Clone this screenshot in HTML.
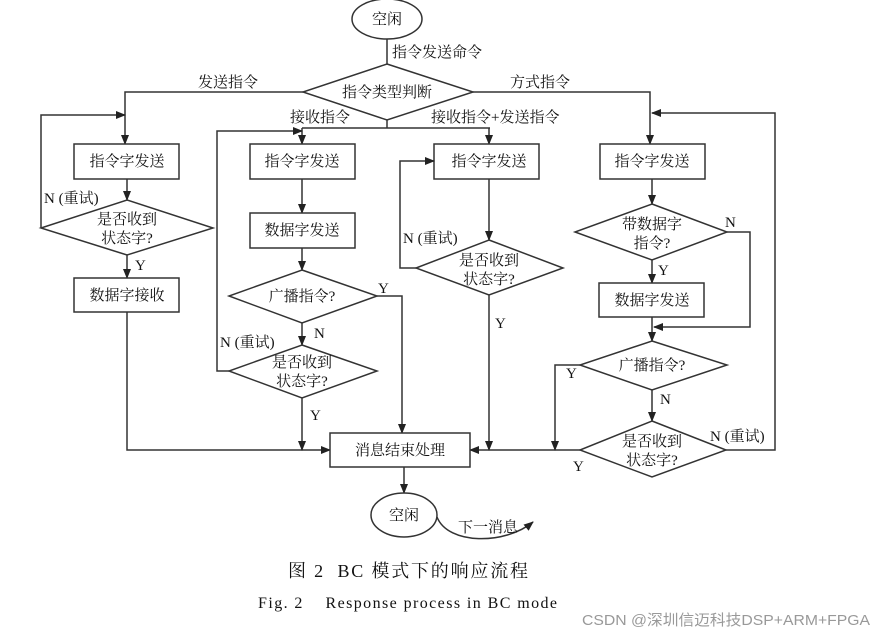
<!DOCTYPE html>
<html><head><meta charset="utf-8"><style>
html,body{margin:0;padding:0;background:#fff;}
svg{display:block;}
text{font-family:"Liberation Serif","Noto Serif CJK SC",serif;font-size:15px;fill:#111;white-space:pre;}
</style></head><body>
<svg width="887" height="637" viewBox="0 0 887 637" xmlns="http://www.w3.org/2000/svg">
<defs><marker id="a" markerWidth="10" markerHeight="8" refX="9" refY="4" orient="auto" markerUnits="userSpaceOnUse"><path d="M0,0 L10,4 L0,8 z" fill="#222"/></marker></defs>
<g stroke="#333" stroke-width="1.5" fill="none">
<ellipse cx="387" cy="19" rx="35" ry="20" fill="#fff"/>
<line x1="387" y1="39" x2="387" y2="64"/>
<polygon points="387,64 473,92 387,120 303,92" fill="#fff"/>
<polyline points="303,92 125,92 125,144" marker-end="url(#a)"/>
<polyline points="473,92 650,92 650,144" marker-end="url(#a)"/>
<line x1="387" y1="120" x2="387" y2="128"/>
<line x1="302" y1="128" x2="490" y2="128"/>
<line x1="302" y1="128" x2="302" y2="144" marker-end="url(#a)"/>
<line x1="489" y1="128" x2="489" y2="144" marker-end="url(#a)"/>
<rect x="74" y="144" width="105" height="35" fill="#fff"/>
<line x1="127" y1="179" x2="127" y2="200" marker-end="url(#a)"/>
<polygon points="127,200 213,228 127,255 41,228" fill="#fff"/>
<polyline points="41,228 41,115 125,115" marker-end="url(#a)"/>
<line x1="127" y1="255" x2="127" y2="278" marker-end="url(#a)"/>
<rect x="74" y="278" width="105" height="34" fill="#fff"/>
<polyline points="127,312 127,450 330,450" marker-end="url(#a)"/>
<rect x="250" y="144" width="105" height="35" fill="#fff"/>
<line x1="302" y1="179" x2="302" y2="213" marker-end="url(#a)"/>
<rect x="250" y="213" width="105" height="35" fill="#fff"/>
<line x1="302" y1="248" x2="302" y2="270" marker-end="url(#a)"/>
<polygon points="302,270 377,296 302,323 229,296" fill="#fff"/>
<polyline points="377,296 402,296 402,433" marker-end="url(#a)"/>
<line x1="302" y1="323" x2="302" y2="345" marker-end="url(#a)"/>
<polygon points="302,345 377,371 302,398 229,371" fill="#fff"/>
<polyline points="229,371 217,371 217,131 302,131" marker-end="url(#a)"/>
<line x1="302" y1="398" x2="302" y2="450" marker-end="url(#a)"/>
<rect x="434" y="144" width="105" height="35" fill="#fff"/>
<line x1="489" y1="179" x2="489" y2="240" marker-end="url(#a)"/>
<polygon points="489,240 563,268 489,295 416,268" fill="#fff"/>
<polyline points="416,268 400,268 400,161 434,161" marker-end="url(#a)"/>
<line x1="489" y1="295" x2="489" y2="450" marker-end="url(#a)"/>
<rect x="600" y="144" width="105" height="35" fill="#fff"/>
<line x1="652" y1="179" x2="652" y2="204" marker-end="url(#a)"/>
<polygon points="652,204 727,232 652,260 575,232" fill="#fff"/>
<polyline points="727,232 750,232 750,327 654,327" marker-end="url(#a)"/>
<line x1="652" y1="260" x2="652" y2="283" marker-end="url(#a)"/>
<rect x="599" y="283" width="105" height="34" fill="#fff"/>
<line x1="652" y1="317" x2="652" y2="341" marker-end="url(#a)"/>
<polygon points="652,341 727,365 652,390 580,365" fill="#fff"/>
<polyline points="580,365 555,365 555,450" marker-end="url(#a)"/>
<line x1="652" y1="390" x2="652" y2="421" marker-end="url(#a)"/>
<polygon points="652,421 726,450 652,477 580,450" fill="#fff"/>
<polyline points="580,450 470,450" marker-end="url(#a)"/>
<polyline points="726,450 775,450 775,113 652,113" marker-end="url(#a)"/>
<rect x="330" y="433" width="140" height="34" fill="#fff"/>
<line x1="404" y1="467" x2="404" y2="493" marker-end="url(#a)"/>
<ellipse cx="404" cy="515" rx="33" ry="22" fill="#fff"/>
<path d="M437,517 C448,545 505,545 533,522" marker-end="url(#a)"/>
</g>
<g text-anchor="middle">
<text x="387" y="24">空闲</text>
<text x="387" y="97">指令类型判断</text>
<text x="127" y="166">指令字发送</text>
<text x="127" y="224">是否收到</text>
<text x="127" y="243">状态字?</text>
<text x="127" y="300">数据字接收</text>
<text x="302" y="166">指令字发送</text>
<text x="302" y="235">数据字发送</text>
<text x="302" y="301">广播指令?</text>
<text x="302" y="367">是否收到</text>
<text x="302" y="386">状态字?</text>
<text x="489" y="166">指令字发送</text>
<text x="489" y="265">是否收到</text>
<text x="489" y="284">状态字?</text>
<text x="652" y="166">指令字发送</text>
<text x="652" y="229">带数据字</text>
<text x="652" y="248">指令?</text>
<text x="652" y="305">数据字发送</text>
<text x="652" y="370">广播指令?</text>
<text x="652" y="446">是否收到</text>
<text x="652" y="465">状态字?</text>
<text x="400" y="455">消息结束处理</text>
<text x="404" y="520">空闲</text>
</g>
<text x="392" y="57">指令发送命令</text>
<text x="198" y="87">发送指令</text>
<text x="510" y="87">方式指令</text>
<text x="290" y="122">接收指令</text>
<text x="431" y="122">接收指令+发送指令</text>
<text x="44" y="203">N (重试)</text>
<text x="135" y="270">Y</text>
<text x="378" y="293">Y</text>
<text x="314" y="338">N</text>
<text x="220" y="347">N (重试)</text>
<text x="310" y="420">Y</text>
<text x="403" y="243">N (重试)</text>
<text x="495" y="328">Y</text>
<text x="725" y="227">N</text>
<text x="658" y="275">Y</text>
<text x="566" y="378">Y</text>
<text x="660" y="404">N</text>
<text x="573" y="471">Y</text>
<text x="710" y="441">N (重试)</text>
<text x="458" y="532">下一消息</text>
<text x="288" y="577" style="font-size:18px" textLength="240" lengthAdjust="spacing">图 2  BC 模式下的响应流程</text>
<text x="258" y="608" style="font-size:16px" textLength="299" lengthAdjust="spacing">Fig. 2    Response process in BC mode</text>
<text x="582" y="625" style="font-family:'Liberation Sans','Noto Sans CJK SC',sans-serif;font-size:15px;fill:#999" textLength="288" lengthAdjust="spacingAndGlyphs">CSDN @深圳信迈科技DSP+ARM+FPGA</text>
</svg>
</body></html>
